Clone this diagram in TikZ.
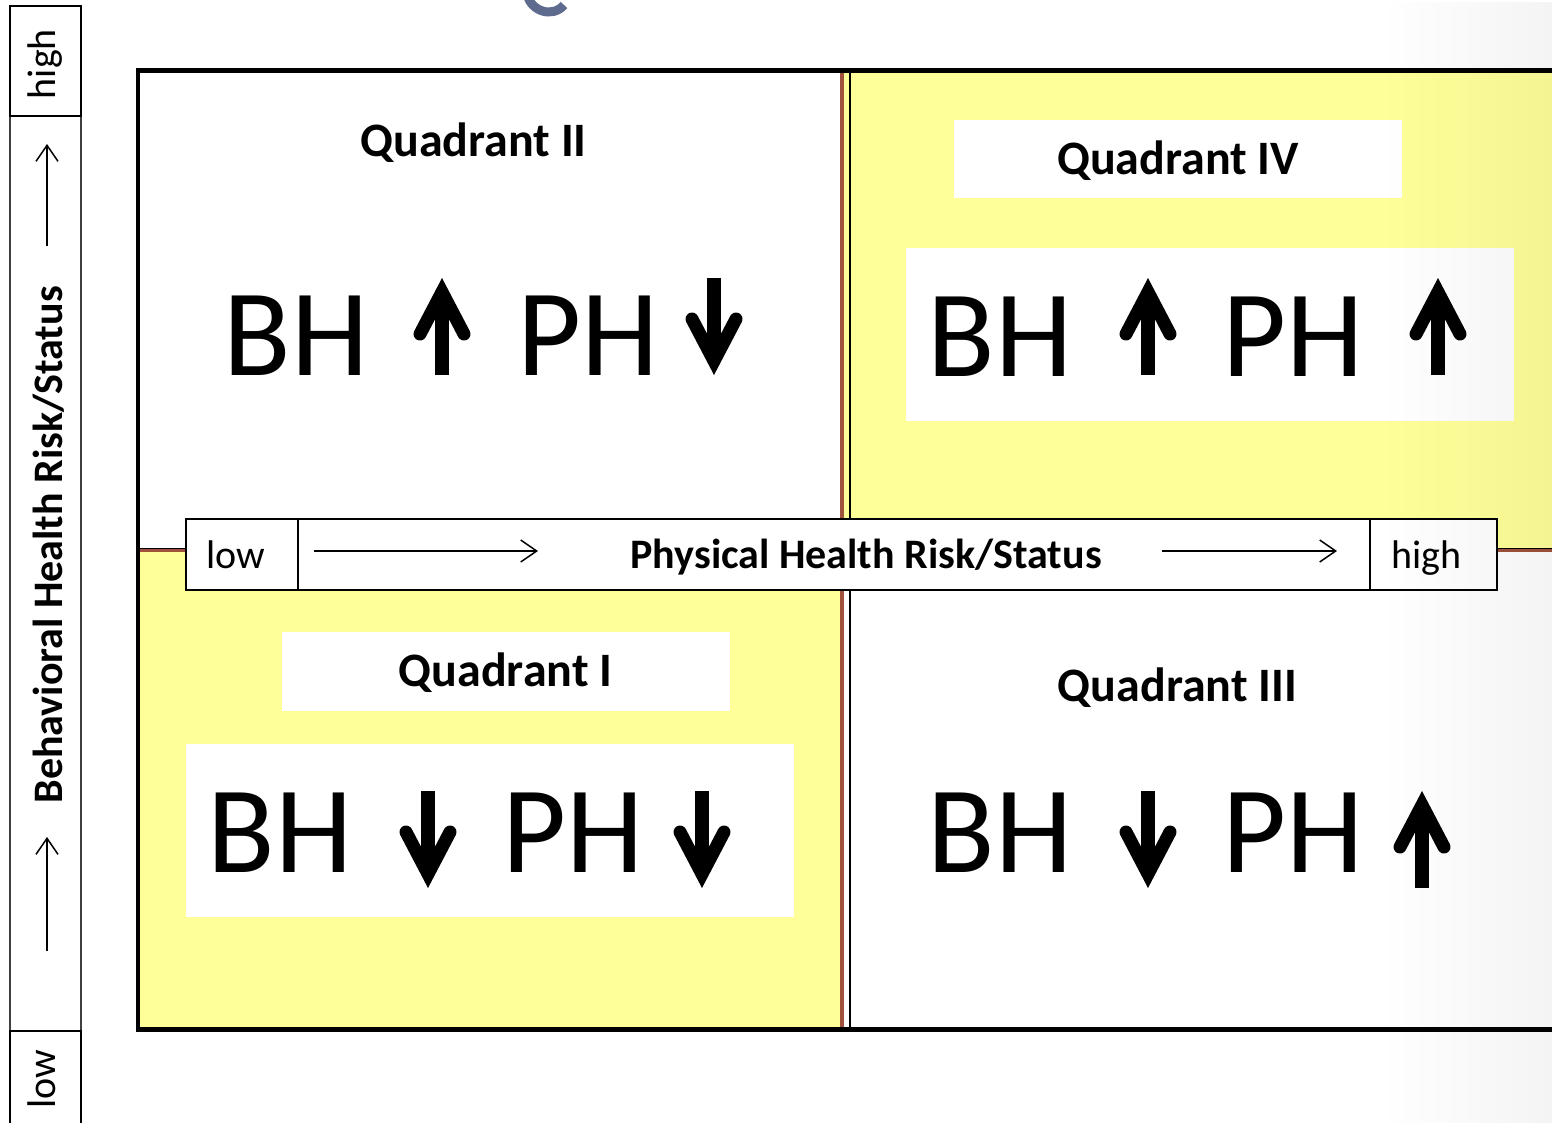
\documentclass[tikz,border=0pt]{standalone}
\usepackage{fontspec}
\setmainfont{Carlito}
\usetikzlibrary{arrows.meta,fadings}
\definecolor{quadyellow}{HTML}{FFFF99}
\definecolor{divbrown}{HTML}{A0523C}
\definecolor{titleblue}{HTML}{5F6B8E}
\definecolor{axgrey}{HTML}{404040}
\tikzset{
  bigsym/.style={font=\fontsize{124}{126}\selectfont,anchor=base,inner sep=0pt},
  qlabel/.style={font=\bfseries\fontsize{48}{52}\selectfont,anchor=base,inner sep=0pt},
  axlabel/.style={font=\fontsize{40}{44}\selectfont,anchor=base,inner sep=0pt},
  axname/.style={font=\bfseries\fontsize{42}{46}\selectfont,anchor=base,inner sep=0pt},
  axbox/.style={draw=black,fill=white,line width=2pt,inner sep=0pt},
  axthinbox/.style={draw=axgrey,fill=white,line width=1.5pt,inner sep=0pt},
  whitebox/.style={fill=white,inner sep=0pt},
  axarrow/.style={line width=1.5pt,-{Straight Barb[length=16pt,width=22pt]}},
  symshaft/.style={line width=14pt,line cap=butt},
  symhead/.style={line width=13pt,line cap=round,line join=miter},
  upsym/.pic={\draw[symshaft](0,97)--(0,16); \draw[symhead](-22,56)--(0,14)--(22,56);},
  downsym/.pic={\draw[symshaft](0,0)--(0,81); \draw[symhead](-22,41)--(0,83)--(22,41);}
}
\begin{document}
\begin{tikzpicture}[x=1pt,y=-1pt]
  \useasboundingbox (0,0) rectangle (1552,1122);
  \fill[white] (0,0) rectangle (1552,1122);
  % quadrants and dividers
  \fill[quadyellow] (844,70) rectangle (1560,550);
  \fill[quadyellow] (137,550) rectangle (840,1030);
  \draw[divbrown,line width=4pt] (842,72) -- (842,1028);
  \draw[line width=1.5pt] (850,72) -- (850,1028);
  \draw[divbrown,line width=4pt] (140,550) -- (1560,550);
  \draw[line width=1pt] (140,548) -- (1560,548);
  \draw[line width=4.5pt] (1560,70.5) -- (138,70.5) -- (138,1029.5) -- (1560,1029.5);
  \draw[titleblue,line width=9pt] (527,-6) .. controls (531,12) and (553,18) .. (564,5);
  % white panels
  \node[whitebox,minimum width=448pt,minimum height=78pt] (q4head) at (1178,159) {};
  \node[whitebox,minimum width=608pt,minimum height=173pt] (q4body) at (1210,334.5) {};
  \node[whitebox,minimum width=448pt,minimum height=79pt] (q1head) at (506,671.5) {};
  \node[whitebox,minimum width=608pt,minimum height=173pt] (q1body) at (490,830.5) {};
  \node[qlabel] (q2lab) at (473.5,156) {Quadrant II};
  \node[qlabel] (q4lab) at (1178,174) {Quadrant IV};
  \node[qlabel] (q1lab) at (505.5,686) {Quadrant I};
  \node[qlabel] (q3lab) at (1177.5,701) {Quadrant III};
  % risk symbols
  \node[bigsym] (q2bh) at (296,375) {BH};
  \node[bigsym] (q2ph) at (588.5,375) {PH};
  \pic at (442,278) {upsym};
  \pic at (714,278) {downsym};
  \node[bigsym] (q4bh) at (1000,376) {BH};
  \node[bigsym] (q4ph) at (1293,376) {PH};
  \pic at (1148,278) {upsym};
  \pic at (1438,278) {upsym};
  \node[bigsym] (q1bh) at (280,872) {BH};
  \node[bigsym] (q1ph) at (573,872) {PH};
  \pic at (428,791) {downsym};
  \pic at (702,791) {downsym};
  \node[bigsym] (q3bh) at (1000,872) {BH};
  \node[bigsym] (q3ph) at (1293,872) {PH};
  \pic at (1148,791) {downsym};
  \pic at (1422,791) {upsym};
  % physical axis
  \node[axbox,minimum width=1311pt,minimum height=71pt] (xbar) at (841.5,554.5) {};
  \node[axbox,minimum width=112pt,minimum height=71pt] (xlowbox) at (242,554.5) {};
  \node[axbox,minimum width=127pt,minimum height=71pt] (xhighbox) at (1433.5,554.5) {};
  \node[axlabel] (xlow) at (236,568) {low};
  \node[axlabel] (xhigh) at (1426.5,568) {high};
  \node[axname] (xname) at (866,568) {Physical Health Risk/Status};
  \coordinate (xa1) at (314,551); \coordinate (xa2) at (538,551);
  \coordinate (xb1) at (1162,551); \coordinate (xb2) at (1337,551);
  \draw[axarrow] (xa1) -- (xa2);
  \draw[axarrow] (xb1) -- (xb2);
  % behavioral axis
  \node[axthinbox,minimum width=71pt,minimum height=915pt] (ybar) at (45.5,573.5) {};
  \node[axbox,minimum width=71pt,minimum height=110pt] (yhighbox) at (45.5,61) {};
  \node[axbox,minimum width=71pt,minimum height=100pt] (ylowbox) at (45.5,1081) {};
  \node[axlabel,rotate=90] (yhigh) at (55,64) {high};
  \node[axlabel,rotate=90] (ylow) at (55,1079) {low};
  \node[axname,rotate=90] (yname) at (62,545) {Behavioral Health Risk/Status};
  \coordinate (ya1) at (47,951); \coordinate (ya2) at (47,837);
  \coordinate (yb1) at (47,246); \coordinate (yb2) at (47,144);
  \draw[axarrow] (ya1) -- (ya2);
  \draw[axarrow] (yb1) -- (yb2);
  \fill[black,opacity=.045,path fading=west] (1380,0) rectangle (1552,1122);
\end{tikzpicture}
\end{document}
